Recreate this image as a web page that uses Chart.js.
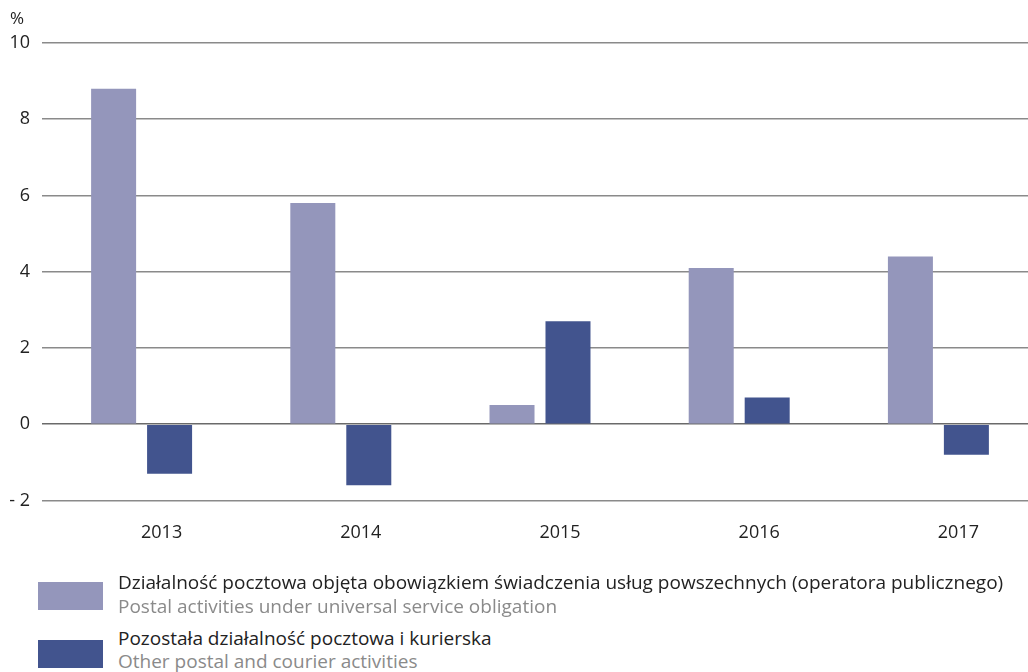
<!DOCTYPE html>
<html>
<head>
<meta charset="utf-8">
<script src="https://cdn.jsdelivr.net/npm/chart.js@4"></script>
<style>
  html, body { margin: 0; padding: 0; background: #fff; overflow: hidden; width: 1028px; height: 672px; }
  body { font-family: "Open Sans", sans-serif; position: relative; }
  #wrap { position: absolute; left: 0; top: 0; width: 1038px; height: 572px; }
  #unit { position: absolute; left: 10px; top: 6px; font-size: 17px; color: #222; }
  .leg { position: absolute; left: 38px; }
  .sw { position: absolute; left: 0; width: 65px; height: 28px; }
  .txt { position: absolute; left: 80px; white-space: nowrap; font-size: 19px; line-height: 24px; }
  .pl { color: #222; }
  .en { color: #8a8a8a; }
</style>
</head>
<body>
<div id="wrap"><canvas id="chart"></canvas></div>
<div id="unit">%</div>
<div class="leg" style="top:582px">
  <div class="sw" style="background:#9496bb"></div>
  <div class="txt" style="top:-12px"><div class="pl">Działalność pocztowa objęta obowiązkiem świadczenia usług powszechnych (operatora publicznego)</div><div class="en">Postal activities under universal service obligation</div></div>
</div>
<div class="leg" style="top:640px">
  <div class="sw" style="background:#42548e"></div>
  <div class="txt" style="top:-13px; line-height:23px"><div class="pl">Pozostała działalność pocztowa i kurierska</div><div class="en">Other postal and courier activities</div></div>
</div>
<script>
const years = ['2013', '2014', '2015', '2016', '2017'];
const universal = [8.8, 5.8, 0.5, 4.1, 4.4];
const other = [-1.3, -1.6, 2.7, 0.7, -0.8];
const yTicks = [-2, 0, 2, 4, 6, 8, 10];

const ctx = document.getElementById('chart').getContext('2d');

const chart = new Chart(ctx, {
  type: 'bar',
  data: {
    labels: years,
    datasets: [{
      label: 'Działalność pocztowa objęta obowiązkiem świadczenia usług powszechnych',
      data: universal,
      backgroundColor: '#9496bb',
      categoryPercentage: 0.562,
      barPercentage: 0.804
    }, {
      label: 'Pozostała działalność pocztowa i kurierska',
      data: other,
      backgroundColor: '#42548e',
      categoryPercentage: 0.562,
      barPercentage: 0.804
    }]
  },
  options: {
    responsive: true,
    maintainAspectRatio: false,
    animation: false,
    layout: { padding: { top: 43, right: 0, left: 0, bottom: 14 } },
    plugins: {
      legend: { display: false },
      tooltip: { enabled: false }
    },
    scales: {
      x: {
        grid: { display: false },
        border: { display: false },
        ticks: { color: '#222', font: { family: 'Open Sans', size: 18 }, padding: 14, labelOffset: 20 }
      },
      y: {
        min: -2,
        max: 10,
        afterBuildTicks: axis => { axis.ticks = yTicks.map(v => ({ value: v })); },
        afterFit: axis => { axis.width = 42; },
        border: { display: false },
        grid: {
          color: c => c.tick && c.tick.value === 0 ? '#6a6a6a' : '#8a8a8a',
          lineWidth: 1.5,
          drawTicks: false
        },
        ticks: {
          color: '#222',
          padding: 12,
          font: { family: 'Open Sans', size: 18 },
          callback: v => v < 0 ? '- ' + Math.abs(v) : String(v)
        }
      }
    }
  }
});
</script>
</body>
</html>
